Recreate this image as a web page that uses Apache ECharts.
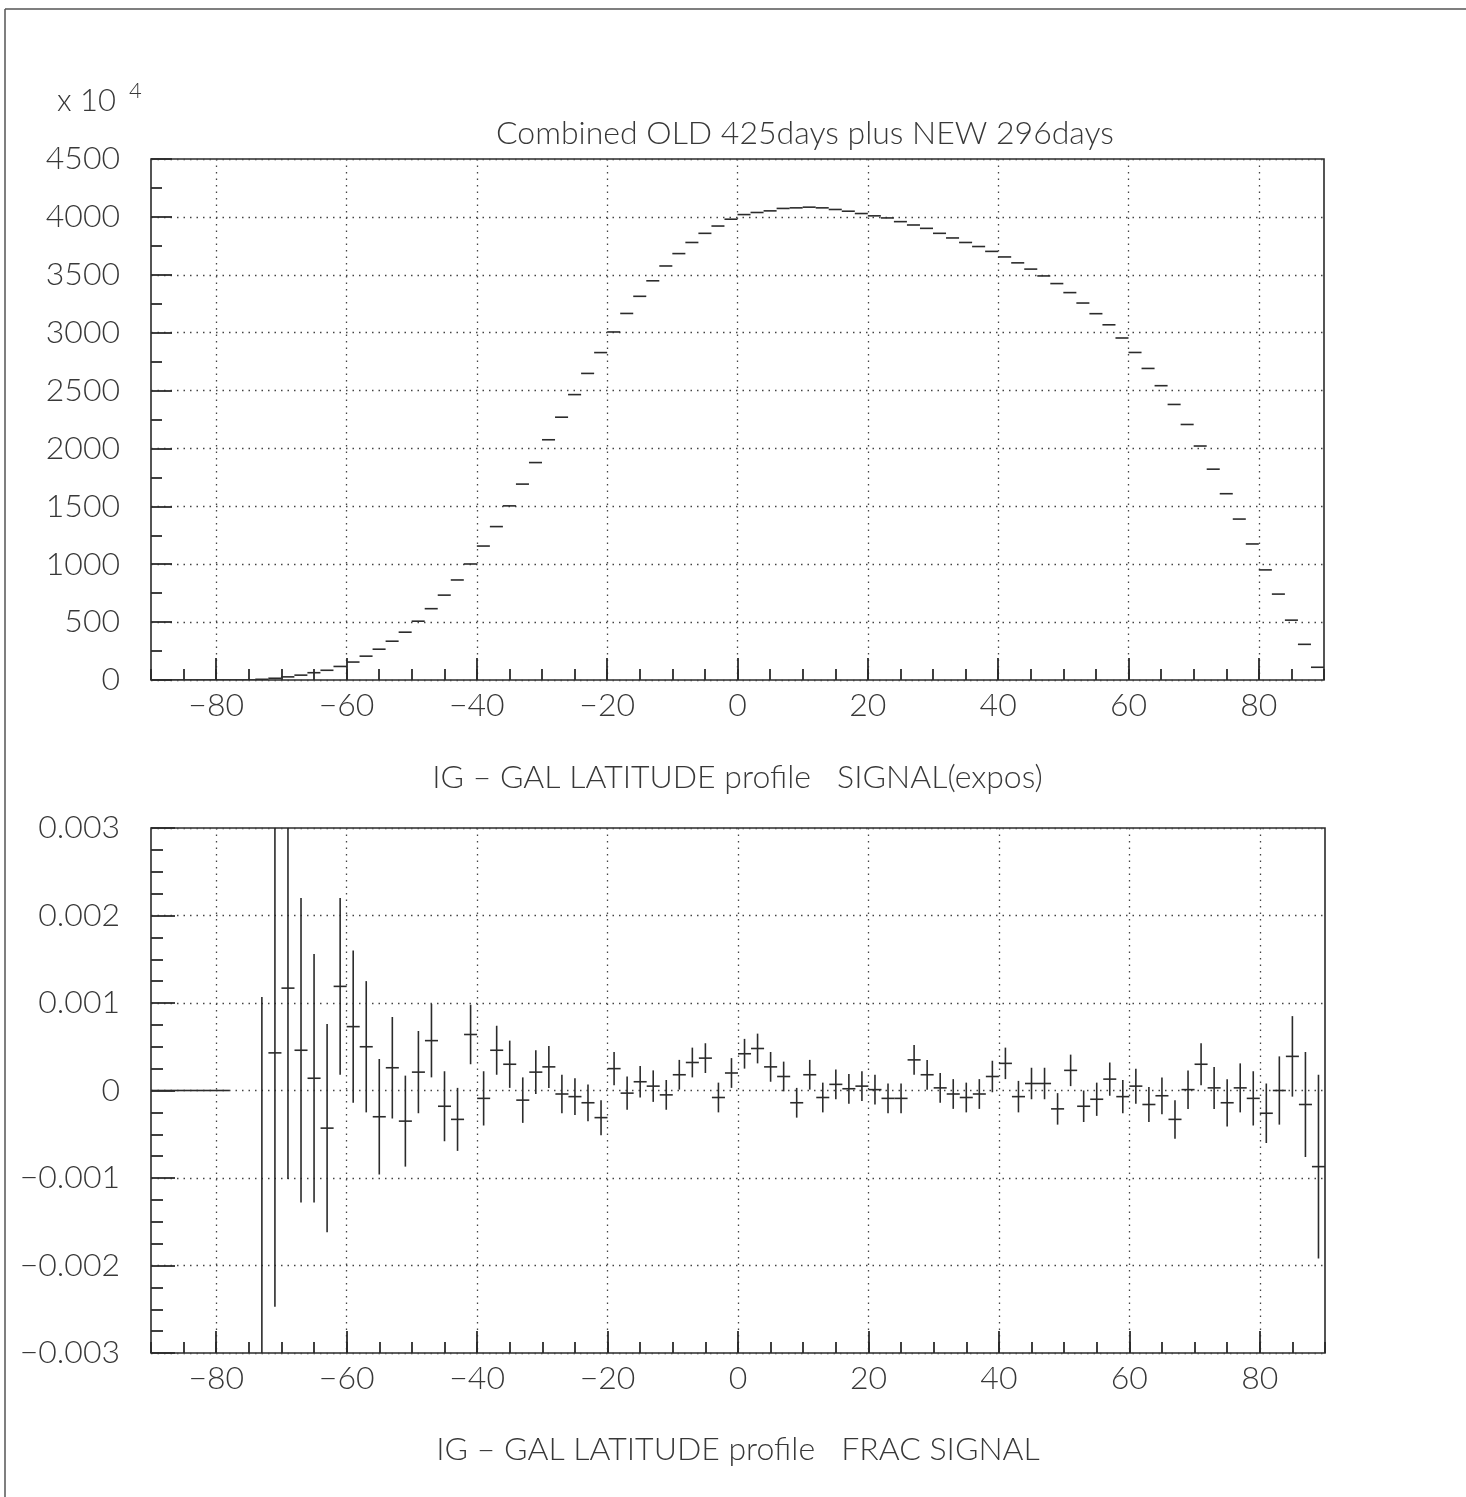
<!DOCTYPE html>
<html>
<head>
<meta charset="utf-8">
<script src="https://cdn.jsdelivr.net/npm/echarts@6/dist/echarts.min.js"></script>
<style>
html,body{margin:0;padding:0;background:#fff;}
#chart{width:1466px;height:1497px;}
</style>
</head>
<body>
<div id="chart"></div>
<script>
// ---- DATA ----
const titleText = 'Combined OLD 425days plus NEW 296days';
const topAxisName = 'IG \u2013 GAL LATITUDE profile   SIGNAL(expos)';
const bottomAxisName = 'IG \u2013 GAL LATITUDE profile   FRAC SIGNAL';
const scaleNote = 'x 10';
const scaleExp = '4';

const xTickValues = [-80, -60, -40, -20, 0, 20, 40, 60, 80];

const latitude = [
  -89,-87,-85,-83,-81,-79,-77,-75,-73,-71,-69,-67,-65,-63,-61,-59,-57,-55,-53,-51,
  -49,-47,-45,-43,-41,-39,-37,-35,-33,-31,-29,-27,-25,-23,-21,-19,-17,-15,-13,-11,
  -9,-7,-5,-3,-1,1,3,5,7,9,11,13,15,17,19,21,23,25,27,29,
  31,33,35,37,39,41,43,45,47,49,51,53,55,57,59,61,63,65,67,69,
  71,73,75,77,79,81,83,85,87,89
];

// signal (units of 10^4)
const signal = [
  0,0,0,0,0,0,0,0,6,15,27,42,63,84,117,155,206,266,335,413,
  508,616,733,864,1002,1157,1325,1504,1692,1878,2075,2270,2465,2648,2828,3006,3166,3314,3448,3576,
  3683,3779,3858,3921,3980,4020,4038,4052,4073,4078,4084,4078,4064,4049,4029,4009,3991,3959,3930,3901,
  3858,3818,3779,3744,3702,3654,3603,3549,3490,3424,3346,3256,3164,3068,2954,2829,2691,2542,2380,2207,
  2021,1821,1609,1390,1175,951,742,517,308,110
];

// fractional signal and its error
const fracSignal = [
  0,0,0,0,0,0,null,null,-0.0036,0.00043,0.00117,0.00046,0.00014,-0.00043,0.00119,0.00073,0.00050,-0.00030,0.00026,-0.00035,
  0.00021,0.00057,-0.00018,-0.00033,0.00064,-0.00009,0.00046,0.00030,-0.00011,0.00021,0.00027,-0.00004,-0.00007,-0.00014,-0.00031,0.00025,-0.00003,0.00010,0.00005,-0.00005,
  0.00018,0.00032,0.00037,-0.00008,0.00020,0.00042,0.00048,0.00027,0.00016,-0.00014,0.00018,-0.00008,0.00007,0.00002,0.00005,0.00001,-0.00009,-0.00009,0.00035,0.00018,
  0.00003,-0.00004,-0.00008,-0.00004,0.00016,0.00031,-0.00007,0.00008,0.00008,-0.00021,0.00023,-0.00018,-0.00010,0.00013,-0.00007,0.00005,-0.00016,-0.00006,-0.00033,0.00001,
  0.00030,0.00003,-0.00014,0.00003,-0.00009,-0.00026,0.00000,0.00039,-0.00016,-0.00087
];
const fracError = [
  0,0,0,0,0,0,null,null,0.00467,0.0029,0.00218,0.00174,0.00142,0.00119,0.00101,0.00087,0.00075,0.00066,0.00058,0.00052,
  0.00047,0.00042,0.00040,0.00036,0.00034,0.00031,0.00028,0.00027,0.00026,0.00025,0.00024,0.00022,0.00021,0.00021,0.00020,0.00019,0.00019,0.00018,0.00018,0.00017,
  0.00017,0.00017,0.00017,0.00017,0.00017,0.00017,0.00017,0.00017,0.00017,0.00017,0.00017,0.00017,0.00017,0.00017,0.00017,0.00017,0.00017,0.00017,0.00017,0.00017,
  0.00017,0.00017,0.00017,0.00017,0.00018,0.00018,0.00018,0.00018,0.00018,0.00018,0.00018,0.00018,0.00019,0.00019,0.00019,0.00020,0.00020,0.00021,0.00022,0.00022,
  0.00024,0.00024,0.00027,0.00028,0.00031,0.00034,0.00039,0.00046,0.00060,0.00105
];

// ---- STYLE ----
const FONT = 'Lato';
const FW = 300;
const TXT = '#383838';
const INK = '#2b2b2b';
const FS = 32;
const HALF_BIN = 1;

const minus = v => (v < 0 ? '\u2212' : '') + Math.abs(v);

const topData = latitude.map((x, i) => [x, signal[i]]);
const botData = [];
latitude.forEach((x, i) => {
  if (fracSignal[i] !== null) botData.push([x, fracSignal[i], fracError[i]]);
});

function dashItem(params, api) {
  const x = api.value(0), y = api.value(1);
  const a = api.coord([x - HALF_BIN, y]);
  const b = api.coord([x + HALF_BIN, y]);
  return {type: 'line', shape: {x1: a[0], y1: a[1], x2: b[0], y2: b[1]},
          style: {stroke: INK, lineWidth: 1.6}};
}
function crossItem(params, api) {
  const x = api.value(0), y = api.value(1), e = api.value(2);
  const a = api.coord([x - HALF_BIN, y]);
  const b = api.coord([x + HALF_BIN, y]);
  const children = [{type: 'line', shape: {x1: a[0], y1: a[1], x2: b[0], y2: b[1]},
                     style: {stroke: INK, lineWidth: 1.6}}];
  if (e > 0) {
    const lo = api.coord([x, y - e]);
    const hi = api.coord([x, y + e]);
    children.push({type: 'line', shape: {x1: lo[0], y1: lo[1], x2: hi[0], y2: hi[1]},
                   style: {stroke: INK, lineWidth: 1.6}});
  }
  return {type: 'group', children};
}

const gridStyle = {show: true, borderColor: INK, borderWidth: 1.6, backgroundColor: 'transparent'};
const labelBase = {color: TXT, fontFamily: FONT, fontWeight: FW, fontSize: FS};
const dotted = () => ({color: '#444', width: 1.3, type: [1.5, 5]});
const tickLine = () => ({color: INK, width: 1.8});

function minorXAxis(gi) {
  return {type: 'value', gridIndex: gi, min: -90, max: 90, interval: 5, position: 'bottom',
    axisLine: {show: false, onZero: false}, splitLine: {show: false}, axisLabel: {show: false},
    axisTick: {show: true, inside: true, length: 11, lineStyle: tickLine()}};
}
function majorXAxis(gi, name, nameGap) {
  return {type: 'value', gridIndex: gi, min: -90, max: 90, position: 'bottom',
    axisLine: {show: false, onZero: false},
    axisTick: {show: true, inside: true, length: 22, customValues: xTickValues, lineStyle: tickLine()},
    axisLabel: Object.assign({show: true, margin: 10, customValues: xTickValues, formatter: minus}, labelBase),
    splitLine: {show: true, lineStyle: dotted()},
    name: name, nameLocation: 'middle', nameGap: nameGap,
    nameTextStyle: Object.assign({}, labelBase)};
}

const option = {
  backgroundColor: '#fff',
  animation: false,
  title: {
    text: titleText, left: 800, top: 113, textAlign: 'center',
    textStyle: Object.assign({}, labelBase)
  },
  graphic: [
    {type: 'line', shape: {x1: 5, y1: 9, x2: 1466, y2: 9}, style: {stroke: '#555', lineWidth: 1.5}},
    {type: 'line', shape: {x1: 5, y1: 9, x2: 5, y2: 1497}, style: {stroke: '#555', lineWidth: 1.5}},
    {type: 'text', left: 57, top: 85, style: {text: scaleNote, fill: TXT, font: FW + ' 31px ' + FONT}},
    {type: 'text', left: 129, top: 80, style: {text: scaleExp, fill: TXT, font: FW + ' 22px ' + FONT}}
  ],
  grid: [
    Object.assign({left: 151, top: 159, width: 1173, height: 521}, gridStyle),
    Object.assign({left: 151, top: 828, width: 1174, height: 525}, gridStyle)
  ],
  xAxis: [
    minorXAxis(0),
    majorXAxis(0, topAxisName, 82),
    minorXAxis(1),
    majorXAxis(1, bottomAxisName, 81)
  ],
  yAxis: [
    {type: 'value', gridIndex: 0, min: 0, max: 4500, interval: 500, position: 'left',
      axisLine: {show: false, onZero: false},
      axisTick: {show: true, inside: true, length: 21, lineStyle: tickLine()},
      minorTick: {show: true, splitNumber: 2, length: 11, lineStyle: tickLine()},
      axisLabel: Object.assign({margin: 31, formatter: v => String(v)}, labelBase),
      splitLine: {show: true, lineStyle: dotted()}},
    {type: 'value', gridIndex: 1, min: -0.003, max: 0.003, interval: 0.001, position: 'left',
      axisLine: {show: false, onZero: false},
      axisTick: {show: true, inside: true, length: 24, lineStyle: tickLine()},
      minorTick: {show: true, splitNumber: 4, length: 12, lineStyle: tickLine()},
      axisLabel: Object.assign({margin: 31, formatter: v => {
        const r = Math.round(v * 1e6) / 1e6;
        return r === 0 ? '0' : (r < 0 ? '\u2212' : '') + Math.abs(r).toFixed(3);
      }}, labelBase),
      splitLine: {show: true, lineStyle: dotted()}}
  ],
  series: [
    {type: 'custom', name: 'signal', xAxisIndex: 0, yAxisIndex: 0, clip: true,
      renderItem: dashItem, data: topData, encode: {x: 0, y: 1}},
    {type: 'custom', name: 'frac', xAxisIndex: 2, yAxisIndex: 1, clip: true,
      renderItem: crossItem, data: botData, encode: {x: 0, y: 1}}
  ]
};

const chart = echarts.init(document.getElementById('chart'), null, {renderer: 'canvas'});
chart.setOption(option);
</script>
</body>
</html>
